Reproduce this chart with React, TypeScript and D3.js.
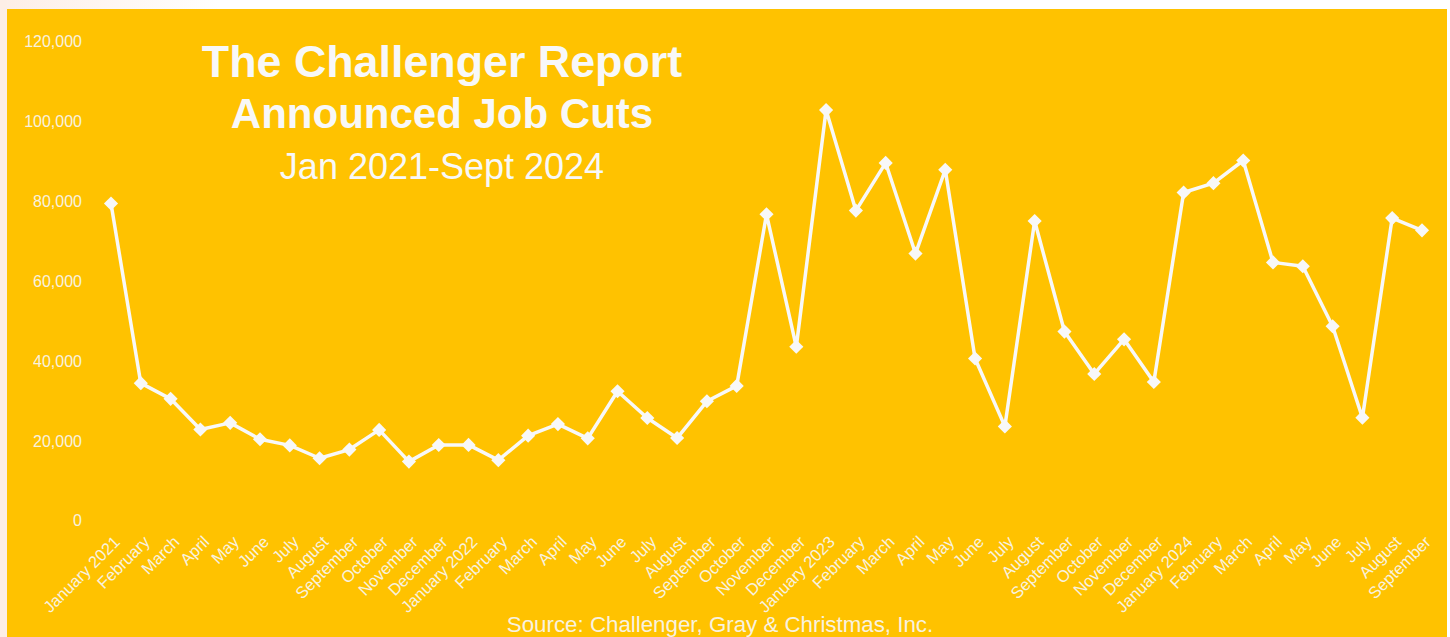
import { useMemo } from 'react';
import * as d3 from 'd3';

const months = [
  'January 2021', 'February', 'March', 'April', 'May', 'June', 'July', 'August', 'September', 'October', 'November', 'December',
  'January 2022', 'February', 'March', 'April', 'May', 'June', 'July', 'August', 'September', 'October', 'November', 'December',
  'January 2023', 'February', 'March', 'April', 'May', 'June', 'July', 'August', 'September', 'October', 'November', 'December',
  'January 2024', 'February', 'March', 'April', 'May', 'June', 'July', 'August', 'September',
];

const jobCuts = [
  79552, 34531, 30603, 22913, 24586, 20476, 18942, 15723, 17895, 22822, 14875, 19052,
  19064, 15245, 21387, 24286, 20712, 32517, 25810, 20781, 29989, 33843, 76835, 43651,
  102943, 77770, 89703, 66995, 88000, 40709, 23697, 75151, 47457, 36836, 45510, 34817,
  82307, 84638, 90309, 64789, 63816, 48786, 25885, 75891, 72821,
];

const yTicks = [0, 20000, 40000, 60000, 80000, 100000, 120000];

const titleLines = ['The Challenger Report', 'Announced Job Cuts'];
const subtitle = 'Jan 2021-Sept 2024';
const source = 'Source: Challenger, Gray & Christmas, Inc.';

const W = 1450,
  H = 637;
const plot = { left: 111, right: 1422, top: 42, bottom: 521 };
const gold = '#FFC200';
const ink = '#F8F8F8';
const font = '"Liberation Sans", Arial, sans-serif';

export default function App() {
  const x = useMemo(
    () =>
      d3
        .scalePoint<number>()
        .domain(months.map((_, i) => i))
        .range([plot.left, plot.right]),
    []
  );
  const y = useMemo(
    () => d3.scaleLinear().domain([0, 120000]).range([plot.bottom, plot.top]),
    []
  );

  const line = d3
    .line<number>()
    .x((_, i) => x(i) as number)
    .y((d) => y(d));

  const marker = d3.symbol().type(d3.symbolSquare).size(100)();
  const fmt = d3.format(',');

  return (
    <svg
      width={W}
      height={H}
      style={{ position: 'absolute', left: 0, top: 0 }}
      fontFamily={font}
    >
      <defs>
        <linearGradient id="edge" x1="0" x2="1" y1="0" y2="0">
          <stop offset="0" stopColor="#fdeee6" />
          <stop offset="1" stopColor="#ffffff" />
        </linearGradient>
      </defs>
      <rect width={W} height={H} fill="#ffffff" />
      <rect width={220} height={9} fill="url(#edge)" />
      <rect width={7} height={H} fill="#fdeee6" />
      <rect x={7} y={9} width={1440} height={H - 9} fill={gold} />

      <g className="y-axis">
        {yTicks.map((t) => (
          <text
            key={t}
            x={82}
            y={y(t)}
            dy="0.34em"
            textAnchor="end"
            fontSize={16}
            fill={ink}
            opacity={0.9}
          >
            {fmt(t)}
          </text>
        ))}
      </g>

      <g className="x-axis">
        {months.map((m, i) => (
          <text
            key={i}
            transform={`translate(${(x(i) as number) + 10},${plot.bottom + 22}) rotate(-45)`}
            textAnchor="end"
            fontSize={16.5}
            fill={ink}
            opacity={0.9}
          >
            {m}
          </text>
        ))}
      </g>

      <path
        d={line(jobCuts) ?? ''}
        fill="none"
        stroke={ink}
        strokeWidth={3.5}
        strokeLinejoin="round"
      />
      <g className="markers">
        {jobCuts.map((v, i) => (
          <path
            key={i}
            d={marker}
            fill={ink}
            transform={`translate(${x(i)},${y(v)}) rotate(45)`}
          />
        ))}
      </g>

      <g className="title" fill={ink} textAnchor="middle">
        <text x={442} y={77} fontSize={44.8} fontWeight="bold">
          {titleLines[0]}
        </text>
        <text x={442} y={128} fontSize={42} fontWeight="bold">
          {titleLines[1]}
        </text>
        <text x={442} y={179} fontSize={36}>
          {subtitle}
        </text>
      </g>

      <text
        x={720}
        y={632}
        textAnchor="middle"
        fontSize={22.3}
        fill={ink}
        opacity={0.9}
      >
        {source}
      </text>
    </svg>
  );
}
